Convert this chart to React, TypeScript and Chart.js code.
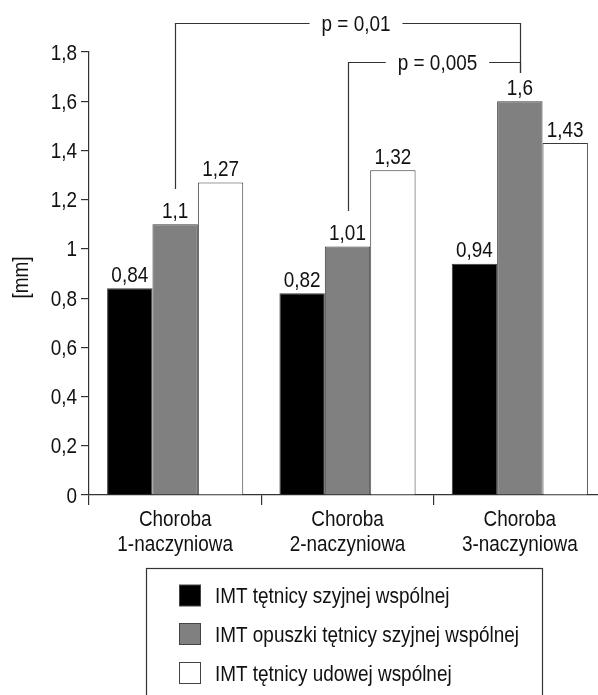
import React, { useEffect, useRef } from "react";
import { Chart, registerables } from "chart.js";

Chart.register(...registerables);

const categories = [
  ["Choroba", "1-naczyniowa"],
  ["Choroba", "2-naczyniowa"],
  ["Choroba", "3-naczyniowa"],
];
const seriesNames = [
  "IMT tętnicy szyjnej wspólnej",
  "IMT opuszki tętnicy szyjnej wspólnej",
  "IMT tętnicy udowej wspólnej",
];
const commonCarotid = [0.84, 0.82, 0.94];
const carotidBulb = [1.1, 1.01, 1.6];
const commonFemoral = [1.27, 1.32, 1.43];
const yMin = 0;
const yMax = 1.8;
const yStep = 0.2;
const yTitle = "[mm]";

// significance brackets between bars of the "opuszki" series
const bracketLabels = ["p = 0,01", "p = 0,005"];
const bracketFrom = [0, 1];
const bracketTo = [2, 2];
const bracketTop = [1.918, 1.759];
const bracketLeftEnd = [1.243, 1.154];
const bracketRightEnd = [1.715, 1.715];
const bracketLabelShift = [8, 3];

const FONT = "'Liberation Sans', Arial, sans-serif";
const FS = 22;
const SX = 0.86; // condensed look
const TEXT = "#111111";
const LINE = "#333333";
const fmt = (v: number) => String(+v.toFixed(2)).replace(".", ",");

const colors = ["#000000", "#808080", "#ffffff"];

function txt(ctx: any, s: string, x: number, y: number, align: string, baseline: string, rot = 0) {
  ctx.save();
  ctx.translate(x, y);
  if (rot) ctx.rotate(rot);
  ctx.scale(SX, 1);
  ctx.font = `${FS}px ${FONT}`;
  ctx.fillStyle = TEXT;
  ctx.textAlign = align;
  ctx.textBaseline = baseline;
  ctx.fillText(s, 0, 0);
  ctx.restore();
}
function txtWidth(ctx: any, s: string) {
  ctx.save();
  ctx.font = `${FS}px ${FONT}`;
  const w = ctx.measureText(s).width * SX;
  ctx.restore();
  return w;
}

const axisText = {
  id: "axisText",
  afterDraw(chart: any) {
    const ctx = chart.ctx;
    const ys = chart.scales.y;
    const xs = chart.scales.x;
    ys.ticks.forEach((t: any, i: number) => {
      const py = ys.getPixelForTick(i);
      txt(ctx, fmt(t.value), ys.right - 12, py + 7.5, "right", "alphabetic");
    });
    xs.ticks.forEach((_t: any, i: number) => {
      const px = xs.getPixelForTick(i);
      const lab = chart.data.labels[i];
      lab.forEach((line: string, j: number) => {
        txt(ctx, line, px, xs.top + 30.5 + j * 25, "center", "alphabetic");
      });
    });
    const cy = (chart.chartArea.top + chart.chartArea.bottom) / 2;
    txt(ctx, yTitle, 22, cy + 4, "center", "middle", -Math.PI / 2);
  },
};

const valueLabels = {
  id: "valueLabels",
  afterDatasetsDraw(chart: any) {
    const ctx = chart.ctx;
    chart.data.datasets.forEach((ds: any, di: number) => {
      const meta = chart.getDatasetMeta(di);
      meta.data.forEach((el: any, i: number) => {
        txt(ctx, fmt(ds.data[i]), el.x, el.y - 6.5, "center", "alphabetic");
      });
    });
  },
};

const brackets = {
  id: "brackets",
  afterDraw(chart: any) {
    const ctx = chart.ctx;
    const y = chart.scales.y;
    const meta = chart.getDatasetMeta(1);
    bracketLabels.forEach((lab, k) => {
      const x1 = Math.round(meta.data[bracketFrom[k]].x) + 0.5;
      const x2 = Math.round(meta.data[bracketTo[k]].x) + 0.5;
      const yt = Math.round(y.getPixelForValue(bracketTop[k])) + 0.5;
      const yl = y.getPixelForValue(bracketLeftEnd[k]);
      const yr = y.getPixelForValue(bracketRightEnd[k]);
      const cx = (x1 + x2) / 2 + bracketLabelShift[k];
      const w = txtWidth(ctx, lab);
      const gap = w / 2 + 12;
      ctx.save();
      ctx.strokeStyle = LINE;
      ctx.lineWidth = 1.2;
      ctx.beginPath();
      ctx.moveTo(x1, yl);
      ctx.lineTo(x1, yt);
      ctx.lineTo(cx - gap, yt);
      ctx.moveTo(cx + gap, yt);
      ctx.lineTo(x2, yt);
      ctx.lineTo(x2, yr);
      ctx.stroke();
      ctx.restore();
      txt(ctx, lab, cx, yt + 7.5, "center", "alphabetic");
    });
  },
};

const boxLegend = {
  id: "boxLegend",
  afterDraw(chart: any) {
    const ctx = chart.ctx;
    ctx.save();
    ctx.strokeStyle = LINE;
    ctx.lineWidth = 1.2;
    ctx.strokeRect(146.5, 568.5, 396, 160);
    const rows = [595.5, 634, 673];
    chart.data.datasets.forEach((ds: any, i: number) => {
      const cy = rows[i];
      ctx.fillStyle = ds.backgroundColor;
      ctx.fillRect(179.5, cy - 10.5, 21, 21);
      ctx.strokeStyle = "#444";
      ctx.lineWidth = 1;
      ctx.strokeRect(179.5, cy - 10.5, 21, 21);
      txt(ctx, ds.label, 215, cy + 7.5, "left", "alphabetic");
    });
    ctx.restore();
  },
};

export default function App() {
  const ref = useRef<HTMLCanvasElement | null>(null);
  useEffect(() => {
    if (!ref.current) return;
    const series = [commonCarotid, carotidBulb, commonFemoral];
    const chart = new Chart(ref.current, {
      type: "bar",
      data: {
        labels: categories,
        datasets: series.map((d, i) => ({
          label: seriesNames[i],
          data: d,
          backgroundColor: colors[i],
          borderColor: "#3a3a3a",
          borderWidth: 1,
          categoryPercentage: 0.79,
          barPercentage: 1,
        })),
      },
      options: {
        animation: false,
        responsive: false,
        devicePixelRatio: 1,
        layout: { padding: { top: 52, left: 0, right: 14, bottom: 130 } },
        plugins: { legend: { display: false }, tooltip: { enabled: false } },
        scales: {
          x: {
            grid: { display: true, drawOnChartArea: false, drawTicks: true, tickLength: 10, color: LINE, lineWidth: 1.2, offset: true },
            border: { display: true, color: LINE, width: 1.2 },
            ticks: { display: false, autoSkip: false },
            afterFit(scale: any) {
              scale.height = 70;
            },
          },
          y: {
            min: yMin,
            max: yMax,
            grid: { display: true, drawOnChartArea: false, drawTicks: true, tickLength: 8, color: LINE, lineWidth: 1.2 },
            border: { display: true, color: LINE, width: 1.2 },
            ticks: { stepSize: yStep, display: false },
            afterFit(scale: any) {
              scale.width = 89;
            },
          },
        },
      },
      plugins: [valueLabels, brackets, axisText, boxLegend],
    });
    return () => chart.destroy();
  }, []);
  return (
    <div style={{ position: "absolute", left: 0, top: 0, width: 598, height: 695, overflow: "hidden", background: "#fff" }}>
      <canvas ref={ref} width={620} height={695} style={{ display: "block" }} />
    </div>
  );
}
